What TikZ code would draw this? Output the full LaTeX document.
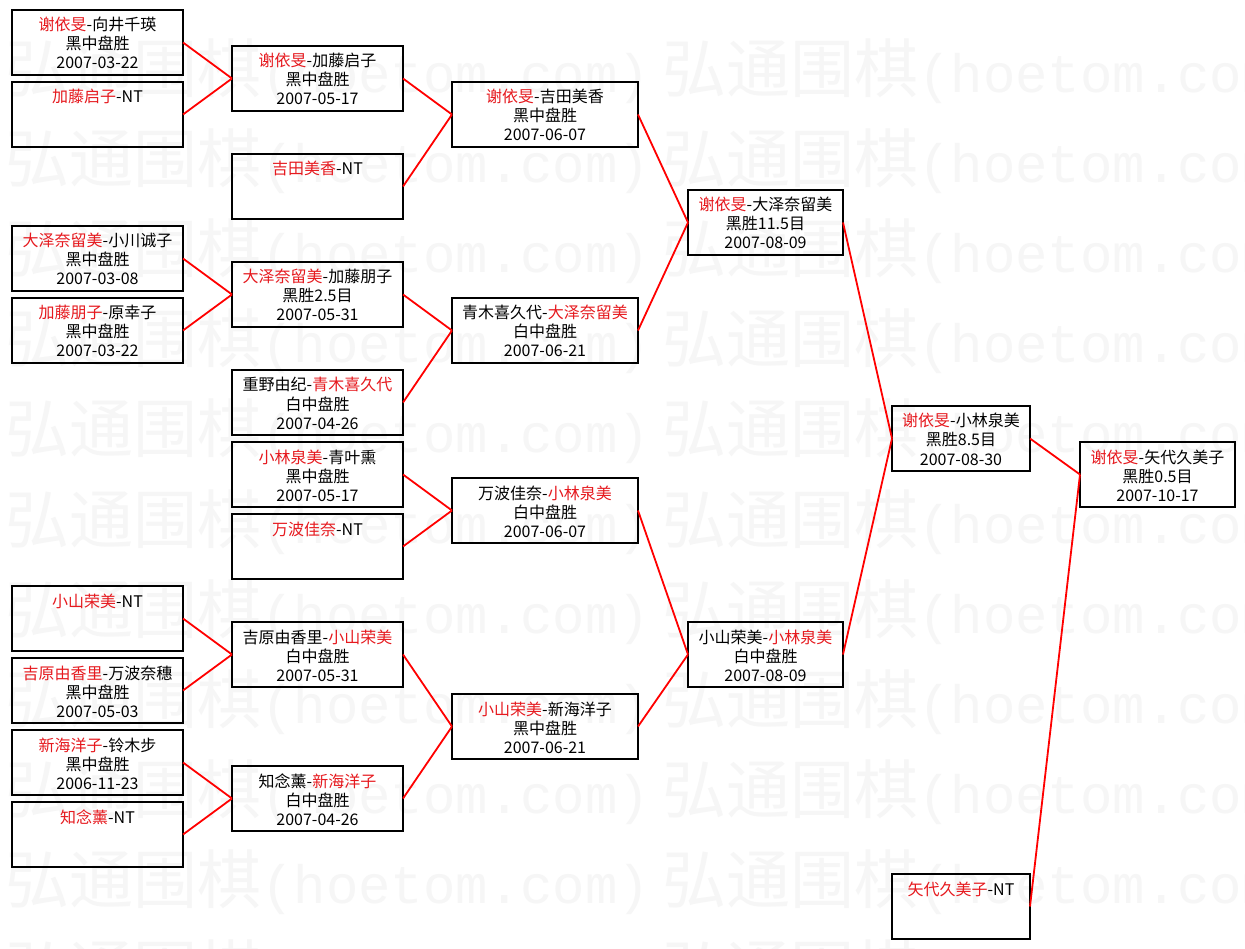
\documentclass[tikz,border=0pt]{standalone}
\usepackage{fontspec}
\setmainfont{Noto Sans CJK SC}
\newfontfamily\cjkfont{Noto Sans CJK SC}
\newfontfamily\wmmono{Liberation Mono}
\usetikzlibrary{calc}
\definecolor{win}{RGB}{230,25,30}
\definecolor{wm}{RGB}{246,246,246}
\newcommand\W[1]{\textcolor{win}{#1}}
\tikzset{
  game/.style={draw=black, line width=2pt, rectangle, minimum height=65pt,
    inner sep=0pt, outer sep=0pt, anchor=north west},
  txt/.style={anchor=base, inner sep=0pt, font=\cjkfont\fontsize{16}{19}\selectfont},
  link/.style={draw=red, line width=1.8pt},
  wmark/.style={anchor=base west, inner sep=0pt, text=wm},
}
\newcommand\gamebox[7]{%
  \node[game, minimum width=#4pt] (#1) at (#2,#3) {};
  \node[txt] (#1a) at ($(#1.north)+(0,21)$) {#5};
  \node[txt] (#1b) at ($(#1.north)+(0,40)$) {#6};
  \node[txt] (#1c) at ($(#1.north)+(0,59)$) {#7};
}
\newcommand\byebox[5]{%
  \node[game, minimum width=#4pt] (#1) at (#2,#3) {};
  \node[txt] (#1a) at ($(#1.north)+(0,21)$) {#5};
}
\begin{document}
\begin{tikzpicture}[x=1pt, y=-1pt]
\useasboundingbox (0,0) rectangle (1245,949);
\fill[white] (0,0) rectangle (1245,949);
\clip (0,0) rectangle (1245,949);
% watermark
\foreach \n in {0,...,10}{
  \node[wmark] (wl\n) at (5,93+90*\n) {{\cjkfont\fontsize{64}{64}\selectfont 弘通围棋}{\wmmono\fontsize{54}{54}\selectfont (hoetom.com)}};
  \node[wmark] (wr\n) at (662,93+90*\n) {{\cjkfont\fontsize{64}{64}\selectfont 弘通围棋}{\wmmono\fontsize{54}{54}\selectfont (hoetom.com)}};
}
% column 1
\gamebox{b1}{12}{10}{171}{\W{谢依旻}-向井千瑛}{黑中盘胜}{2007-03-22}
\byebox{b2}{12}{82}{171}{\W{加藤启子}-NT}
\gamebox{b3}{12}{226}{171}{\W{大泽奈留美}-小川诚子}{黑中盘胜}{2007-03-08}
\gamebox{b4}{12}{298}{171}{\W{加藤朋子}-原幸子}{黑中盘胜}{2007-03-22}
\byebox{b5}{12}{586}{171}{\W{小山荣美}-NT}
\gamebox{b6}{12}{658}{171}{\W{吉原由香里}-万波奈穗}{黑中盘胜}{2007-05-03}
\gamebox{b7}{12}{730}{171}{\W{新海洋子}-铃木步}{黑中盘胜}{2006-11-23}
\byebox{b8}{12}{802}{171}{\W{知念薰}-NT}
% column 2
\gamebox{c1}{232}{46}{171}{\W{谢依旻}-加藤启子}{黑中盘胜}{2007-05-17}
\byebox{c2}{232}{154}{171}{\W{吉田美香}-NT}
\gamebox{c3}{232}{262}{171}{\W{大泽奈留美}-加藤朋子}{黑胜2.5目}{2007-05-31}
\gamebox{c4}{232}{370}{171}{重野由纪-\W{青木喜久代}}{白中盘胜}{2007-04-26}
\gamebox{c5}{232}{442}{171}{\W{小林泉美}-青叶熏}{黑中盘胜}{2007-05-17}
\byebox{c6}{232}{514}{171}{\W{万波佳奈}-NT}
\gamebox{c7}{232}{622}{171}{吉原由香里-\W{小山荣美}}{白中盘胜}{2007-05-31}
\gamebox{c8}{232}{766}{171}{知念薰-\W{新海洋子}}{白中盘胜}{2007-04-26}
% column 3
\gamebox{d1}{452}{82}{186}{\W{谢依旻}-吉田美香}{黑中盘胜}{2007-06-07}
\gamebox{d2}{452}{298}{186}{青木喜久代-\W{大泽奈留美}}{白中盘胜}{2007-06-21}
\gamebox{d3}{452}{478}{186}{万波佳奈-\W{小林泉美}}{白中盘胜}{2007-06-07}
\gamebox{d4}{452}{694}{186}{\W{小山荣美}-新海洋子}{黑中盘胜}{2007-06-21}
% column 4
\gamebox{e1}{688}{190}{155}{\W{谢依旻}-大泽奈留美}{黑胜11.5目}{2007-08-09}
\gamebox{e2}{688}{622}{155}{小山荣美-\W{小林泉美}}{白中盘胜}{2007-08-09}
% column 5
\gamebox{f1}{892}{406}{138}{\W{谢依旻}-小林泉美}{黑胜8.5目}{2007-08-30}
\byebox{f2}{892}{874}{138}{\W{矢代久美子}-NT}
% column 6
\gamebox{g1}{1080}{442}{155}{\W{谢依旻}-矢代久美子}{黑胜0.5目}{2007-10-17}
% connectors
\foreach \a/\b in {b1/c1,b2/c1,b3/c3,b4/c3,b5/c7,b6/c7,b7/c8,b8/c8,
  c1/d1,c2/d1,c3/d2,c4/d2,c5/d3,c6/d3,c7/d4,c8/d4,
  d1/e1,d2/e1,d3/e2,d4/e2,e1/f1,e2/f1,f1/g1,f2/g1}{
  \draw[link] (\a.east) -- (\b.west);
}
\end{tikzpicture}
\end{document}
